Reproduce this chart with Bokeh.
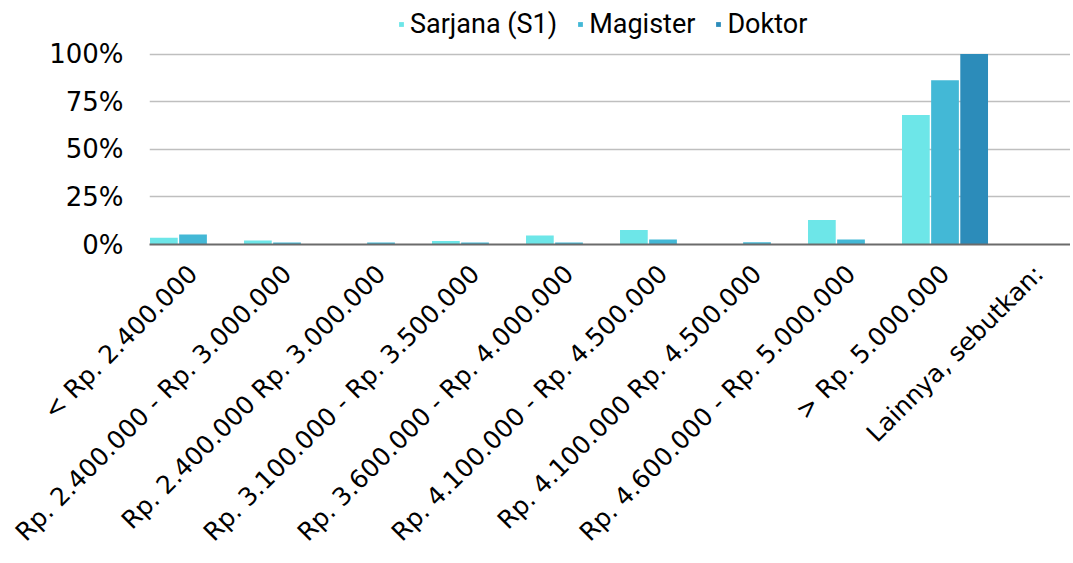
import math
from bokeh.plotting import figure
from bokeh.models import Range1d, FixedTicker, Legend, LegendItem, ColumnDataSource
from bokeh.embed import file_html
from bokeh.resources import INLINE

categories = [
    "< Rp. 2.400.000",
    "Rp. 2.400.000 - Rp. 3.000.000",
    "Rp. 2.400.000 Rp. 3.000.000",
    "Rp. 3.100.000 - Rp. 3.500.000",
    "Rp. 3.600.000 - Rp. 4.000.000",
    "Rp. 4.100.000 - Rp. 4.500.000",
    "Rp. 4.100.000 Rp. 4.500.000",
    "Rp. 4.600.000 - Rp. 5.000.000",
    "> Rp. 5.000.000",
    "Lainnya, sebutkan:",
]
sarjana = [3.5, 2.1, 0.0, 1.9, 4.7, 7.6, 0.0, 12.9, 68.0, 0.3]
magister = [5.2, 1.0, 1.0, 1.0, 1.0, 2.6, 1.2, 2.6, 86.3, 0.0]
doktor = [0.0, 0.0, 0.0, 0.0, 0.0, 0.0, 0.0, 0.0, 100.0, 0.0]
series_names = ["Sarjana (S1)", "Magister", "Doktor"]
y_ticks = [0, 25, 50, 75, 100]

colors = ["#6DE6E8", "#43B8D6", "#2C8CBA"]
offsets = [-0.31, 0.0, 0.31]
bar_w = 0.295

# frame spans 244 px vertically; 100% sits 192 px above the baseline
p = figure(
    width=1070, height=560,
    x_range=Range1d(-0.463, 9.335), y_range=Range1d(0, 100 * 244 / 192),
    output_backend="svg", toolbar_location=None,
    min_border_left=149, min_border_right=0, min_border_top=2, min_border_bottom=314,
)
p.outline_line_color = None
p.background_fill_color = "white"
p.border_fill_color = "white"

idx = list(range(len(categories)))
renderers = []
for vals, off, col in zip([sarjana, magister, doktor], offsets, colors):
    src = ColumnDataSource(dict(x=[i + off for i in idx], top=vals))
    r = p.vbar(x="x", top="top", width=bar_w, source=src, fill_color=col, line_color=None)
    renderers.append(r)

# axes
p.xaxis.ticker = FixedTicker(ticks=idx)
p.xaxis.major_label_overrides = {i: c for i, c in zip(idx, categories)}
p.xaxis.major_label_orientation = math.pi / 4
p.xaxis.major_label_text_font = "DejaVu Sans"
p.xaxis.major_label_text_font_size = "25px"
p.xaxis.major_label_text_color = "#000000"
p.xaxis.major_tick_line_color = None
p.xaxis.minor_tick_line_color = None
p.xaxis.axis_line_color = "#6B6B6B"
p.xaxis.axis_line_width = 2
p.xaxis.major_label_standoff = 19

p.yaxis.ticker = FixedTicker(ticks=y_ticks)
p.yaxis.major_label_overrides = {t: f"{t}%" for t in y_ticks}
p.yaxis.major_label_text_font = "DejaVu Sans"
p.yaxis.major_label_text_font_size = "26px"
p.yaxis.major_label_text_color = "#000000"
p.yaxis.major_tick_line_color = None
p.yaxis.minor_tick_line_color = None
p.yaxis.axis_line_color = None
p.yaxis.major_label_standoff = 20

p.xgrid.grid_line_color = None
p.ygrid.grid_line_color = "#BFBFBF"
p.ygrid.grid_line_width = 1.5

legend = Legend(
    items=[LegendItem(label=n, renderers=[r]) for n, r in zip(series_names, renderers)],
    orientation="horizontal", location=(249, 204),
    label_text_font="Roboto", label_text_font_size="27px", label_text_color="#000000",
    glyph_width=6, glyph_height=6, label_standoff=6, spacing=20,
    padding=0, margin=0, border_line_color=None, background_fill_alpha=0,
)
p.add_layout(legend, "center")

open("out.html", "w").write(file_html(p, INLINE))
